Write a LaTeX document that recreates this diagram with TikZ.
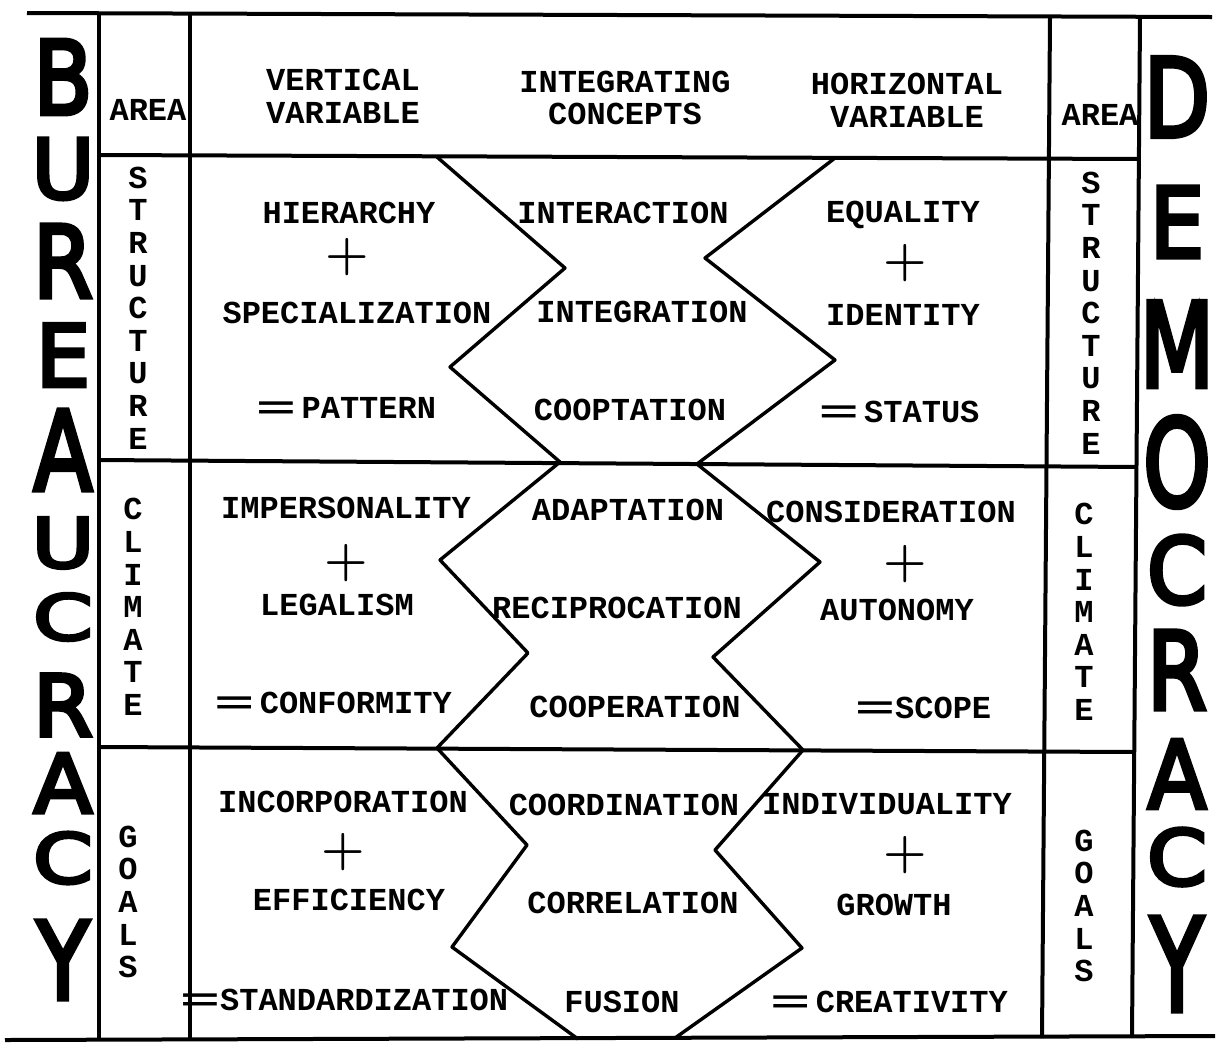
\documentclass[tikz,border=0pt]{standalone}
\usepackage{fontspec}
\usepackage{graphicx}
\newfontfamily\typer{Liberation Mono}
\newfontfamily\hand{DejaVu Sans}[FakeBold=4.5]
\newcommand{\tw}{\typer\bfseries\fontsize{16}{16.3}\selectfont}
\newcommand{\pl}{{\fontsize{30}{30}\selectfont\boldmath$+$}}
\newcommand{\eqs}{\scalebox{2.1}[1]{=}}

\begin{document}
\begin{tikzpicture}[x=0.5pt, y=-0.5pt, every node/.style={inner sep=0pt, font=\tw},
  rule/.style={line width=2pt}, zig/.style={line width=1.7pt, line join=round},
  big/.style={font=\hand\fontsize{55}{55}\selectfont, xscale=0.78},
  vlab/.style={align=center}]
\useasboundingbox (0,0) rectangle (1216,1057);
\draw[rule] (27,13) -- (1212,17);
\draw[rule] (5,1040) -- (1215,1036);
\draw[rule] (99,13) -- (99,1040);
\draw[rule] (190,13) -- (190,1040);
\draw[rule] (1050,18) -- (1042,1038);
\draw[rule] (1140,18) -- (1132,1037);
\draw[rule] (99,155) -- (1140,159);
\draw[rule] (99,460) -- (1137,467);
\draw[rule] (99,747) -- (1135,752);
\draw[zig] (437,157) -- (565,268) -- (450,367) -- (560,462) -- (440,560) -- (528,653) -- (437,748) -- (527,845) -- (452,947) -- (578,1039);
\draw[zig] (835,158) -- (705,258) -- (835,360) -- (697,464) -- (820,562) -- (713,657) -- (803,750) -- (715,850) -- (802,948) -- (675,1038);
\foreach \c/\y/\h [count=\i] in {B/77/89, U/169/72, R/261/87, E/355/75, A/450/96, U/543/60, C/617/55, R/705/74, A/783/71, C/858/60, Y/960/94}
  \node[big, yscale=\h/96] (bu\i) at (63,\y) {\c};
\foreach \c/\y/\h [count=\i] in {D/97/95, E/222/85, M/344/102, O/462/105, C/570/80, R/670/94, A/774/82, C/857/67, Y/964/112}
  \node[big, yscale=\h/96] (de\i) at (1177,\y) {\c};
\node (areal) at (148,110) {AREA};
\node[align=center] (vert) at (343,96) {VERTICAL\\VARIABLE};
\node[align=center] (integ) at (625,98) {INTEGRATING\\CONCEPTS};
\node[align=center] (horiz) at (907,100) {HORIZONTAL\\VARIABLE};
\node (arear) at (1100,115) {AREA};
\node[vlab] (structl) at (138,308) {S\\T\\R\\U\\C\\T\\U\\R\\E};
\node[vlab] (climl) at (133,607) {C\\L\\I\\M\\A\\T\\E};
\node[vlab] (goalsl) at (128,902) {G\\O\\A\\L\\S};
\node[vlab] (structr) at (1091,313) {S\\T\\R\\U\\C\\T\\U\\R\\E};
\node[vlab] (climr) at (1084,612) {C\\L\\I\\M\\A\\T\\E};
\node[vlab] (goalsr) at (1084,906) {G\\O\\A\\L\\S};
\foreach \t/\x/\y [count=\i] in {HIERARCHY/349/213, \pl/347/257, SPECIALIZATION/357/313, \eqs\,PATTERN/346/408,
  IMPERSONALITY/346/508, \pl/346/563, LEGALISM/337/605, \eqs\,CONFORMITY/333/703,
  INCORPORATION/343/802, \pl/343/852, EFFICIENCY/349/900, \eqs STANDARDIZATION/344/1000}
  \node (vv\i) at (\x,\y) {\t};
\foreach \t/\x/\y [count=\i] in {INTERACTION/623/213, INTEGRATION/642/312, COOPTATION/630/410,
  ADAPTATION/628/510, RECIPROCATION/617/608, COOPERATION/635/707,
  COORDINATION/624/805, CORRELATION/633/903, FUSION/622/1002}
  \node (ic\i) at (\x,\y) {\t};
\foreach \t/\x/\y [count=\i] in {EQUALITY/903/215, \pl/905/263, IDENTITY/903/315, \eqs\,STATUS/899/412,
  CONSIDERATION/891/512, \pl/905/564, AUTONOMY/897/610, \eqs SCOPE/923/708,
  INDIVIDUALITY/887/804, \pl/905/855, GROWTH/894/905, \eqs\,CREATIVITY/889/1002}
  \node (hv\i) at (\x,\y) {\t};
\end{tikzpicture}
\end{document}
